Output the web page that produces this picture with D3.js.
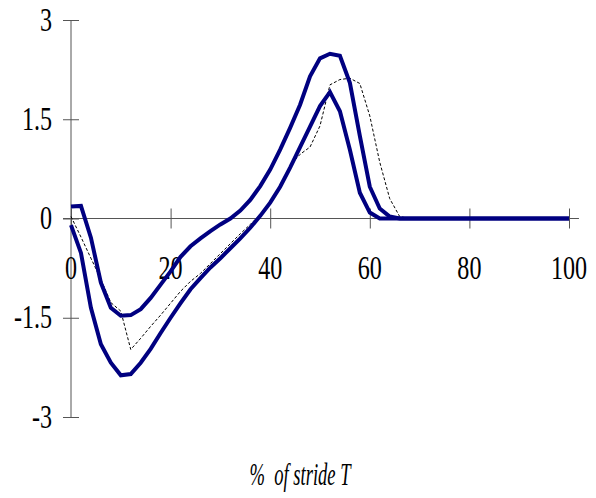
<!DOCTYPE html>
<html>
<head>
<meta charset="utf-8">
<script src="https://cdn.jsdelivr.net/npm/d3@7"></script>
<style>
  html, body { margin: 0; padding: 0; background: #fff; }
  svg { display: block; }
  text { font-family: "Liberation Serif", "Times New Roman", serif; fill: #000; }
</style>
</head>
<body>
<svg id="chart" width="596" height="498"></svg>
<script>
// Percent of stride (sampled every 2 %)
const stride = d3.range(0, 101, 2);

// Upper thick curve
const curveA = [
  0.18, 0.19, -0.29, -0.97, -1.35, -1.47, -1.46, -1.37, -1.20, -1.00,
  -0.80, -0.58, -0.42, -0.30, -0.19, -0.09, 0.00, 0.12, 0.28, 0.49,
  0.74, 1.04, 1.37, 1.72, 2.15, 2.42, 2.49, 2.46, 2.05, 1.25,
  0.48, 0.15, 0.03, 0, 0, 0, 0, 0, 0, 0,
  0, 0, 0, 0, 0, 0, 0, 0, 0, 0, 0
];

// Lower thick curve
const curveB = [
  -0.10, -0.52, -1.35, -1.90, -2.18, -2.37, -2.35, -2.18, -1.97, -1.73,
  -1.50, -1.28, -1.07, -0.90, -0.74, -0.60, -0.45, -0.30, -0.14, 0.04,
  0.24, 0.48, 0.77, 1.08, 1.39, 1.70, 1.91, 1.62, 1.04, 0.39,
  0.09, 0.00, 0, 0, 0, 0, 0, 0, 0, 0,
  0, 0, 0, 0, 0, 0, 0, 0, 0, 0, 0
];

// Thin dashed reference curve
const curveRef = [
  0.03, -0.28, -0.60, -0.92, -1.27, -1.40, -1.98, -1.81, -1.63, -1.46,
  -1.28, -1.10, -0.95, -0.83, -0.68, -0.53, -0.38, -0.23, -0.09, 0.06,
  0.25, 0.50, 0.80, 0.97, 1.08, 1.40, 2.02, 2.10, 2.12, 2.04,
  1.55, 0.85, 0.30, 0.03, 0, 0, 0, 0, 0, 0,
  0, 0, 0, 0, 0, 0, 0, 0, 0, 0, 0
];

const xTicks = [0, 20, 40, 60, 80, 100];
const yTicks = [-3, -1.5, 0, 1.5, 3];
const xTitle = "%  of stride T";

const svg = d3.select("#chart");
const x = d3.scaleLinear().domain([0, 100]).range([71, 569]);
const y = d3.scaleLinear().domain([-3, 3]).range([417, 20]);

const axisColor = "#555";
const fontSize = 33;
const squeeze = 0.73;

// y axis
const yAxis = svg.append("g")
  .attr("transform", `translate(${x(0)},0)`)
  .call(d3.axisLeft(y).tickValues(yTicks).tickSize(8).tickSizeOuter(0).tickFormat(""));
yAxis.select(".domain").attr("stroke", axisColor).attr("d", `M0,${y(3)}V${y(-3)}`);
yAxis.selectAll(".tick line").attr("stroke", axisColor).attr("x1", -8).attr("x2", 8);

// x axis along zero
const xAxis = svg.append("g")
  .attr("transform", `translate(0,${y(0)})`)
  .call(d3.axisBottom(x).tickValues(xTicks).tickSize(10).tickSizeOuter(0).tickFormat(""));
xAxis.select(".domain").attr("stroke", axisColor)
  .attr("d", `M${x(-1.6)},0H${x(102)}`);
xAxis.selectAll(".tick line").attr("stroke", axisColor).attr("y1", -10).attr("y2", 10);

// y tick labels
svg.append("g").selectAll("text").data(yTicks).join("text")
  .attr("transform", d => `translate(52,${y(d) + 10.5}) scale(${squeeze},1)`)
  .attr("text-anchor", "end")
  .attr("font-size", fontSize)
  .text(d => d);

// x tick labels
svg.append("g").selectAll("text").data(xTicks).join("text")
  .attr("transform", d => `translate(${x(d)},279) scale(${squeeze},1)`)
  .attr("text-anchor", "middle")
  .attr("font-size", fontSize)
  .text(d => d);

// x axis title (condensed italic)
svg.append("text")
  .attr("transform", `translate(300,485) scale(0.6,1)`)
  .attr("text-anchor", "middle")
  .attr("font-size", 31)
  .attr("font-style", "italic")
  .style("white-space", "pre")
  .text(xTitle);

const line = d3.line().x((d, i) => x(stride[i])).y(d => y(d));

svg.append("path").datum(curveRef)
  .attr("fill", "none").attr("stroke", "#000").attr("stroke-width", 1)
  .attr("stroke-dasharray", "3,2").attr("d", line);

[curveA, curveB].forEach(c => {
  svg.append("path").datum(c)
    .attr("fill", "none").attr("stroke", "#000080").attr("stroke-width", 4)
    .attr("stroke-linejoin", "miter").attr("d", line);
});
</script>
</body>
</html>
